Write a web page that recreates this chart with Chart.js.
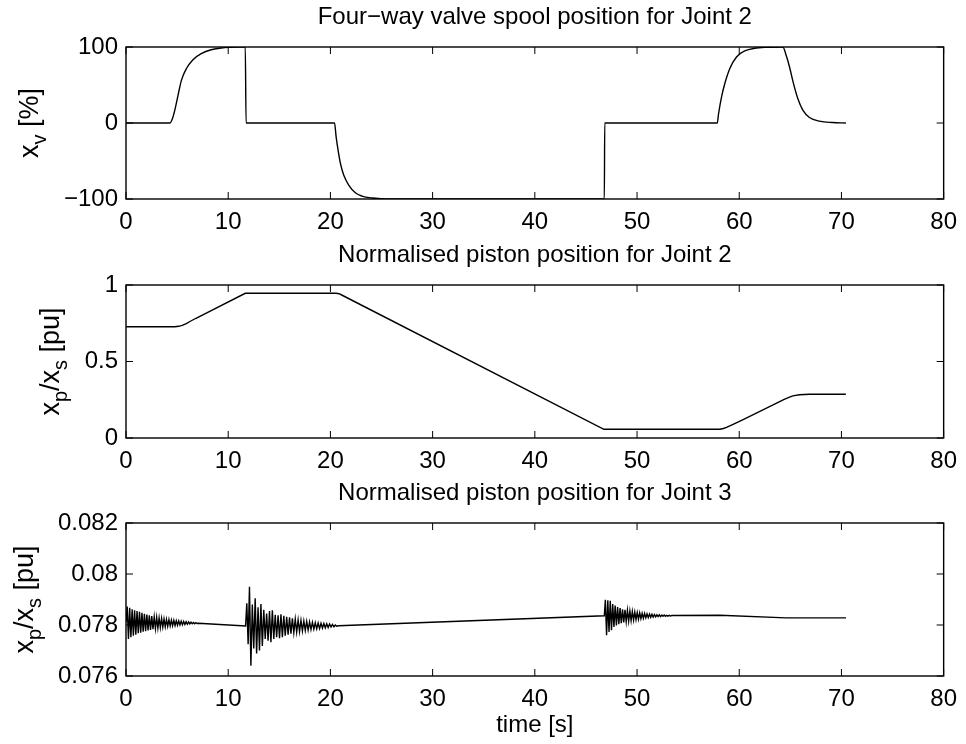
<!DOCTYPE html>
<html>
<head>
<meta charset="utf-8">
<script src="https://cdn.jsdelivr.net/npm/chart.js@4.4.1/dist/chart.umd.min.js"></script>
<style>
  html, body { margin: 0; padding: 0; background: #fff; }
  #wrap { position: relative; width: 966px; height: 744px; overflow: hidden; background: #fff; }
  #wrap canvas { position: absolute; left: 0; top: 0; }
</style>
</head>
<body>
<div id="wrap">
  <canvas id="spool" width="966" height="744"></canvas>
  <canvas id="joint2" width="966" height="744"></canvas>
  <canvas id="joint3" width="966" height="744"></canvas>
</div>
<script>
// ---- shared time axis ----
const timeTicks = [0, 10, 20, 30, 40, 50, 60, 70, 80];
const timeTickLabels = ['0', '10', '20', '30', '40', '50', '60', '70', '80'];
const timeAxisTitle = 'time [s]';

// ---- Joint 2: four-way valve spool position [%] ----
const spoolTitle = 'Four\u2212way valve spool position for Joint 2';
const spoolTime = [0, 4.28, 4.54, 4.77, 5.09, 5.42, 5.90, 6.55, 7.36, 8.33, 9.31, 10.12, 10.8, 11.67, 11.75,
  20.40, 20.56, 20.75, 20.98, 21.30, 21.79, 22.44, 23.08, 24.06, 25.03, 27.0, 46.80, 46.84,
  57.85, 57.98, 58.27, 58.59, 59.08, 59.73, 60.54, 61.51, 62.65, 64.27,
  64.59, 64.92, 65.31, 65.73, 66.22, 66.87, 67.84, 69.14, 70.43];
const spoolPos = [0, 0, 5.7, 16.6, 36.4, 56.1, 71.4, 83.3, 91.2, 96.4, 98.6, 99.6, 100, 100, 0,
  0, -18.2, -35.7, -53.2, -68.5, -81.6, -91.7, -96.1, -98.7, -99.6, -100, -100, 0,
  0, 12.5, 34.4, 51.9, 71.6, 86.9, 94.8, 98.3, 99.6, 100,
  89.1, 73.7, 51.9, 32.2, 16.9, 7.3, 2.4, 0.6, 0];
const spoolTicks = [-100, 0, 100];
const spoolTickLabels = ['\u2212100', '0', '100'];
const spoolAxisLabel = [{ text: 'x', sub: false }, { text: 'v', sub: true }, { text: ' [%]', sub: false }];

// ---- Joint 2: normalised piston position [pu] ----
const piston2Title = 'Normalised piston position for Joint 2';
const piston2Time = [0, 4.77, 5.15, 5.50, 5.90, 6.30, 6.80, 11.67, 20.55, 20.85, 21.15, 46.76,
  58.10, 58.45, 58.75, 59.40, 60.38, 64.40, 64.80, 65.24, 65.89, 66.86, 70.43];
const piston2Pos = [0.727, 0.727, 0.730, 0.736, 0.748, 0.763, 0.781, 0.946, 0.946, 0.943, 0.933, 0.057,
  0.057, 0.062, 0.070, 0.089, 0.120, 0.252, 0.264, 0.275, 0.283, 0.286, 0.286];
const piston2Ticks = [0, 0.5, 1];
const piston2TickLabels = ['0', '0.5', '1'];
const pistonAxisLabel = [{ text: 'x', sub: false }, { text: 'p', sub: true }, { text: '/x', sub: false },
  { text: 's', sub: true }, { text: ' [pu]', sub: false }];

// ---- Joint 3: normalised piston position [pu] ----
const piston3Title = 'Normalised piston position for Joint 3';
const burst1Time = [0.00, 0.12, 0.24, 0.36, 0.48, 0.60, 0.72, 0.84, 0.96, 1.08, 1.20, 1.32, 1.44, 1.56, 1.68,
  1.80, 1.92, 2.04, 2.16, 2.28, 2.40, 2.52, 2.64, 2.76, 2.88, 3.00, 3.12, 3.24, 3.36, 3.48, 3.60, 3.72, 3.84,
  3.96, 4.08, 4.20, 4.32, 4.44, 4.56, 4.68, 4.80, 4.92, 5.04, 5.16, 5.28, 5.40, 5.52, 5.64, 5.76, 5.88, 6.00,
  6.12, 6.24, 6.36, 6.48, 6.60, 6.72, 6.84, 6.96, 7.08];
const burst1Pos = [0.07810, 0.07872, 0.07745, 0.07868, 0.07752, 0.07862, 0.07758, 0.07858, 0.07762, 0.07855,
  0.07768, 0.07852, 0.07770, 0.07848, 0.07774, 0.07844, 0.07776, 0.07841, 0.07779, 0.07838, 0.07781, 0.07835,
  0.07784, 0.07832, 0.07786, 0.07830, 0.07788, 0.07828, 0.07790, 0.07826, 0.07792, 0.07824, 0.07793, 0.07822,
  0.07795, 0.07821, 0.07796, 0.07819, 0.07797, 0.07818, 0.07798, 0.07817, 0.07799, 0.07816, 0.07800, 0.07815,
  0.07801, 0.07814, 0.07802, 0.07813, 0.07803, 0.07812, 0.07804, 0.07811, 0.07805, 0.07810, 0.07805, 0.07809,
  0.07806, 0.07807];
const settle1Time = [11.70];
const settle1Pos = [0.07796];
const burst2Time = [11.74, 11.82, 11.95, 12.08, 12.22, 12.36, 12.50, 12.64, 12.78, 12.92, 13.06, 13.20, 13.34,
  13.48, 13.62, 13.76, 13.90, 14.04, 14.18, 14.32, 14.46, 14.60, 14.74, 14.88, 15.02, 15.16, 15.30, 15.44, 15.58,
  15.72, 15.86, 16.00, 16.14, 16.28, 16.42, 16.56, 16.70, 16.84, 16.98, 17.12, 17.26, 17.40, 17.54, 17.68, 17.82,
  17.96, 18.10, 18.24, 18.38, 18.52, 18.66, 18.80, 18.94, 19.08, 19.22, 19.36, 19.50, 19.64, 19.78, 19.92, 20.06,
  20.20, 20.34, 20.48, 20.62, 20.80];
const burst2Pos = [0.07796, 0.07885, 0.07725, 0.07950, 0.07640, 0.07880, 0.07708, 0.07905, 0.07688, 0.07870,
  0.07700, 0.07882, 0.07718, 0.07860, 0.07745, 0.07845, 0.07738, 0.07855, 0.07732, 0.07858, 0.07745, 0.07840,
  0.07752, 0.07838, 0.07748, 0.07842, 0.07752, 0.07836, 0.07758, 0.07832, 0.07762, 0.07830, 0.07766, 0.07826,
  0.07770, 0.07823, 0.07772, 0.07820, 0.07774, 0.07818, 0.07777, 0.07816, 0.07779, 0.07814, 0.07780, 0.07812,
  0.07782, 0.07811, 0.07784, 0.07809, 0.07785, 0.07808, 0.07786, 0.07807, 0.07788, 0.07806, 0.07789, 0.07805,
  0.07790, 0.07804, 0.07792, 0.07802, 0.07793, 0.07800, 0.07795, 0.07797];
const settle2Time = [46.80];
const settle2Pos = [0.07836];
const burst3Time = [46.82, 46.90, 47.02, 47.14, 47.26, 47.38, 47.50, 47.62, 47.74, 47.86, 47.98, 48.10, 48.22,
  48.34, 48.46, 48.58, 48.70, 48.82, 48.94, 49.06, 49.18, 49.30, 49.42, 49.54, 49.66, 49.78, 49.90, 50.02, 50.14,
  50.26, 50.38, 50.50, 50.62, 50.74, 50.86, 50.98, 51.10, 51.22, 51.34, 51.46, 51.58, 51.70, 51.82, 51.94, 52.06,
  52.18, 52.30, 52.42, 52.54, 52.66, 52.78, 52.90, 53.02, 53.14, 53.26, 53.40];
const burst3Pos = [0.07836, 0.07899, 0.07760, 0.07897, 0.07773, 0.07895, 0.07780, 0.07882, 0.07792, 0.07876,
  0.07798, 0.07870, 0.07803, 0.07866, 0.07807, 0.07862, 0.07810, 0.07860, 0.07813, 0.07858, 0.07815, 0.07855,
  0.07817, 0.07853, 0.07819, 0.07851, 0.07821, 0.07849, 0.07823, 0.07848, 0.07825, 0.07846, 0.07826, 0.07845,
  0.07828, 0.07844, 0.07829, 0.07843, 0.07830, 0.07842, 0.07831, 0.07841, 0.07832, 0.07840, 0.07833, 0.07840,
  0.07833, 0.07839, 0.07834, 0.07839, 0.07834, 0.07838, 0.07835, 0.07838, 0.07835, 0.07837];
const tailTime = [58.10, 64.60, 70.45];
const tailPos = [0.07838, 0.07828, 0.07828];
const piston3Ticks = [0.076, 0.078, 0.080, 0.082];
const piston3TickLabels = ['0.076', '0.078', '0.08', '0.082'];

// ---- layout ----
const FONT = "'Liberation Sans', Arial, Helvetica, sans-serif";
const TICK_FONT_SIZE = 24;
const TITLE_FONT_SIZE = 24;
const LABEL_FONT_SIZE = 27;
const PLOT_LEFT = 126, PLOT_RIGHT = 948;
const X_AXIS_H = 40;
const TICK_LEN = 7;
const LINE_W = 1.4;

function toPoints(times, values) {
  const n = Math.min(times.length, values.length);
  const pts = [];
  for (let i = 0; i < n; i++) pts.push({ x: times[i], y: values[i] });
  return pts;
}

function drawAxisLabel(ctx, parts, baseX, centerY, size) {
  const subSize = size * 0.74;
  ctx.save();
  ctx.translate(baseX, centerY);
  ctx.rotate(-Math.PI / 2);
  ctx.textAlign = 'left';
  ctx.textBaseline = 'alphabetic';
  let w = 0;
  parts.forEach(p => { ctx.font = (p.sub ? subSize : size) + 'px ' + FONT; w += ctx.measureText(p.text).width; });
  let pos = -w / 2;
  parts.forEach(p => {
    ctx.font = (p.sub ? subSize : size) + 'px ' + FONT;
    ctx.fillText(p.text, pos, p.sub ? size * 0.3 : 0);
    pos += ctx.measureText(p.text).width;
  });
  ctx.restore();
}

// Box with inward ticks on all four sides, plus title and axis labels.
const framePlugin = {
  id: 'frame',
  afterDraw(chart, args, opts) {
    const { ctx, chartArea: a } = chart;
    const xs = chart.scales.x, ys = chart.scales.y;
    ctx.save();
    ctx.strokeStyle = '#000';
    ctx.lineWidth = LINE_W;
    ctx.strokeRect(a.left, a.top, a.right - a.left, a.bottom - a.top);
    ctx.beginPath();
    xs.ticks.forEach(t => {
      const px = xs.getPixelForValue(t.value);
      ctx.moveTo(px, a.bottom); ctx.lineTo(px, a.bottom - TICK_LEN);
      ctx.moveTo(px, a.top); ctx.lineTo(px, a.top + TICK_LEN);
    });
    ys.ticks.forEach(t => {
      const py = ys.getPixelForValue(t.value);
      ctx.moveTo(a.left, py); ctx.lineTo(a.left + TICK_LEN, py);
      ctx.moveTo(a.right, py); ctx.lineTo(a.right - TICK_LEN, py);
    });
    ctx.lineWidth = 1;
    ctx.stroke();

    ctx.fillStyle = '#000';
    ctx.font = TITLE_FONT_SIZE + 'px ' + FONT;
    ctx.textAlign = 'center';
    ctx.textBaseline = 'middle';
    ctx.fillText(opts.title, (a.left + a.right) / 2, a.top - 30);

    drawAxisLabel(ctx, opts.axisLabel, opts.labelX, (a.top + a.bottom) / 2, LABEL_FONT_SIZE);

    if (opts.xTitle) {
      ctx.font = TICK_FONT_SIZE + 'px ' + FONT;
      ctx.textAlign = 'center';
      ctx.textBaseline = 'middle';
      ctx.fillText(opts.xTitle, (a.left + a.right) / 2, a.bottom + 49);
    }
    ctx.restore();
  }
};

function makeChart(id, c) {
  return new Chart(document.getElementById(id), {
    type: 'line',
    data: {
      datasets: [{
        data: c.points,
        borderColor: '#000',
        borderWidth: LINE_W,
        pointRadius: 0,
        fill: false,
        tension: 0,
        cubicInterpolationMode: c.smooth ? 'monotone' : 'default'
      }]
    },
    options: {
      responsive: false,
      animation: false,
      devicePixelRatio: 1,
      events: [],
      layout: { padding: { top: c.top, bottom: 744 - c.bottom - X_AXIS_H, left: 0, right: 966 - PLOT_RIGHT } },
      plugins: {
        legend: { display: false },
        tooltip: { enabled: false },
        frame: { title: c.title, axisLabel: c.axisLabel, labelX: c.labelX, xTitle: c.xTitle }
      },
      scales: {
        x: {
          type: 'linear', min: 0, max: 80,
          grid: { display: false, drawTicks: false },
          border: { display: false },
          ticks: {
            autoSkip: false, maxRotation: 0, padding: 9, color: '#000',
            font: { family: FONT, size: TICK_FONT_SIZE },
            callback: (v, i) => timeTickLabels[i]
          },
          afterBuildTicks: s => { s.ticks = timeTicks.map(v => ({ value: v })); },
          afterFit: s => { s.height = X_AXIS_H; }
        },
        y: {
          type: 'linear', min: c.yMin, max: c.yMax,
          grid: { display: false, drawTicks: false },
          border: { display: false },
          ticks: {
            autoSkip: false, padding: 8, color: '#000',
            font: { family: FONT, size: TICK_FONT_SIZE },
            callback: (v, i) => c.yLabels[i]
          },
          afterBuildTicks: s => { s.ticks = c.yTicks.map(v => ({ value: v })); },
          afterFit: s => { s.width = PLOT_LEFT; }
        }
      }
    },
    plugins: [framePlugin]
  });
}

makeChart('spool', {
  points: toPoints(spoolTime, spoolPos), smooth: true,
  top: 47, bottom: 199, yMin: -100, yMax: 100,
  yTicks: spoolTicks, yLabels: spoolTickLabels,
  title: spoolTitle, axisLabel: spoolAxisLabel, labelX: 38
});

makeChart('joint2', {
  points: toPoints(piston2Time, piston2Pos), smooth: false,
  top: 285, bottom: 438, yMin: 0, yMax: 1,
  yTicks: piston2Ticks, yLabels: piston2TickLabels,
  title: piston2Title, axisLabel: pistonAxisLabel, labelX: 59
});

const joint3Points = [].concat(
  toPoints(burst1Time, burst1Pos), toPoints(settle1Time, settle1Pos),
  toPoints(burst2Time, burst2Pos), toPoints(settle2Time, settle2Pos),
  toPoints(burst3Time, burst3Pos), toPoints(tailTime, tailPos));

makeChart('joint3', {
  points: joint3Points, smooth: false,
  top: 523, bottom: 676, yMin: 0.076, yMax: 0.082,
  yTicks: piston3Ticks, yLabels: piston3TickLabels,
  title: piston3Title, axisLabel: pistonAxisLabel, labelX: 33, xTitle: timeAxisTitle
});
</script>
</body>
</html>
